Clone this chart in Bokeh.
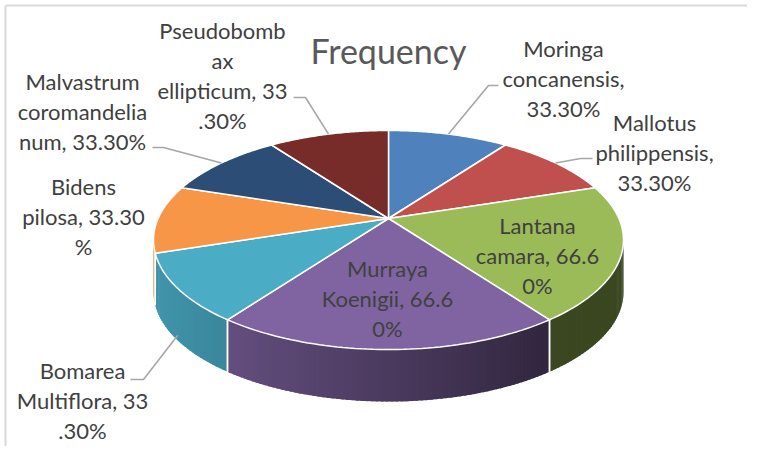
import numpy as np
from bokeh.plotting import figure
from bokeh.models import Range1d
from bokeh.core.properties import value
from bokeh.embed import file_html
from bokeh.resources import INLINE

# ---------------- data ----------------
species = ["Moringa concanensis", "Mallotus philippensis", "Lantana camara",
           "Murraya Koenigii", "Bomarea Multiflora", "Bidens pilosa",
           "Malvastrum coromandelianum", "Pseudobombax ellipticum"]
frequency = [33.30, 33.30, 66.60, 66.60, 33.30, 33.30, 33.30, 33.30]
label_text = ["Moringa\nconcanensis,\n33.30%",
              "Mallotus\nphilippensis,\n33.30%",
              "Lantana\ncamara, 66.6\n0%",
              "Murraya\nKoenigii, 66.6\n0%",
              "Bomarea\nMultiflora, 33\n.30%",
              "Bidens\npilosa, 33.30\n%",
              "Malvastrum\ncoromandelia\nnum, 33.30%",
              "Pseudobomb\nax\nellipticum, 33\n.30%"]
title_text = "Frequency"

# ---------------- style / layout ----------------
colors = ["#4F81BD", "#C0504D", "#9BBB59", "#8064A2",
          "#4BACC6", "#F79646", "#2C4D75", "#772C2A"]
CX, CY = 388.0, 218.0      # pie apex on screen
A, B, K = 230.4, 105.3, 0.1964
DEPTH = 52.0
label_xy = [(563, 78), (654, 152), (537, 255), (387, 298),
            (82, 400), (83, 216), (82, 111), (222, 75)]
leader_pts = {0: [(498, 85), (488, 85)], 1: [(592, 158), (580, 158)],
              4: [(130, 379), (143, 379)], 6: [(152, 147), (163, 147)],
              7: [(293, 97), (305, 97)]}
FONT = "Lato"
TXT = "#404040"


def proj(theta_deg):
    t = np.radians(theta_deg)
    u, v = np.sin(t), -np.cos(t)
    d = 1 - K * v
    return CX + A * u / d, CY + B * v / d


def shade(x):
    return float(np.clip(0.87 - (x - 153) / (547 - 153) * 0.48, 0.38, 0.9))


def hex_scale(h, f):
    r, g, b = int(h[1:3], 16), int(h[3:5], 16), int(h[5:7], 16)
    return "#%02x%02x%02x" % (int(r * f), int(g * f), int(b * f))


p = figure(width=747, height=446, output_backend="svg", toolbar_location=None,
           x_range=Range1d(0, 747), y_range=Range1d(446, 0),
           x_axis_type=None, y_axis_type=None, min_border=0,
           outline_line_color=None, background_fill_color="white")
p.grid.visible = False

# chart frame
p.line([5, 5], [5, 446], line_color="#D9D9D9", line_width=2)
p.line([5, 747], [5, 5], line_color="#D9D9D9", line_width=2)

total = sum(frequency)
bounds = np.concatenate([[0], np.cumsum(frequency) / total * 360])
th_r = np.degrees(np.arccos(-K))
th_l = 360 - th_r

# sides (front)
sx, sy, sc = [], [], []
edge_lines = []
for i in range(len(frequency)):
    a0, a1 = max(bounds[i], th_r), min(bounds[i + 1], th_l)
    if a1 <= a0:
        continue
    ts = np.linspace(a0, a1, max(2, int((a1 - a0) / 1.0) + 1))
    for t0, t1 in zip(ts[:-1], ts[1:]):
        x0, y0 = proj(t0)
        x1, y1 = proj(min(t1 + 0.6, a1))
        sx.append([x0, x1, x1, x0])
        sy.append([y0, y1, y1 + DEPTH, y0 + DEPTH])
        sc.append(hex_scale(colors[i], shade((x0 + x1) / 2)))
    for bd in (bounds[i], bounds[i + 1]):
        if th_r < bd < th_l:
            ex, ey = proj(bd)
            edge_lines.append(([ex, ex], [ey, ey + DEPTH]))
p.patches(sx, sy, fill_color=sc, line_color=None)
for ex, ey in edge_lines:
    p.line(ex, ey, line_color="white", line_width=1.5)

# top faces
tx, ty = [], []
for i in range(len(frequency)):
    ts = np.linspace(bounds[i], bounds[i + 1], 60)
    xs, ys = proj(ts)
    tx.append([CX] + list(xs))
    ty.append([CY] + list(ys))
p.patches(tx, ty, fill_color=colors, line_color="white", line_width=1.5)

# leader lines
for i, pts in leader_pts.items():
    mid = (bounds[i] + bounds[i + 1]) / 2
    mx, my = proj(mid)
    if th_r < mid < th_l:
        my += DEPTH * 0.9
    xs = [pts[0][0], pts[1][0], mx]
    ys = [pts[0][1], pts[1][1], my]
    p.line(xs, ys, line_color="#A6A6A6", line_width=1.6)

# labels
p.text(x=[q[0] for q in label_xy], y=[q[1] for q in label_xy], text=label_text,
       text_align="center", text_baseline="middle", text_font=value(FONT),
       text_font_size="22px", text_color=TXT, text_line_height=1.12)

# title
p.text(x=[388], y=[50], text=[title_text], text_align="center",
       text_baseline="middle", text_font=value(FONT),
       text_font_size="34px", text_color="#595959")

open("out.html", "w").write(file_html(p, INLINE))
